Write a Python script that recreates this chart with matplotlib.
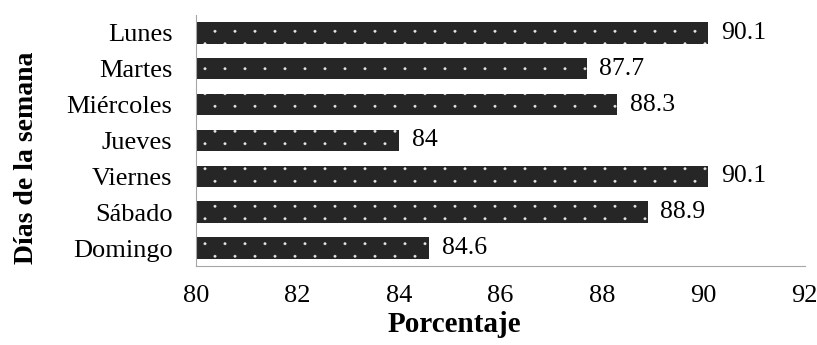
import warnings
import matplotlib.pyplot as plt
import matplotlib.hatch as mhatch
from matplotlib.path import Path
import numpy as np

warnings.filterwarnings('ignore')

dias = ["Lunes", "Martes", "Miércoles", "Jueves", "Viernes", "Sábado", "Domingo"]
porcentaje = [90.1, 87.7, 88.3, 84, 90.1, 88.9, 84.6]
etiquetas = ["90.1", "87.7", "88.3", "84", "90.1", "88.9", "84.6"]


# trama de puntos separados (tresbolillo), mas abierta que el '.' de matplotlib
class PuntosSeparados(mhatch.HatchPatternBase):
    filas = 8
    cols = 5
    radio = 0.012

    def __init__(self, hatch, density):
        circ = Path.unit_circle()
        self.forma = circ.vertices * self.radio
        self.codigos = circ.codes
        if hatch.count(':'):
            self.num_vertices = self.filas * self.cols * len(self.forma)
        else:
            self.num_vertices = 0

    def set_vertices_and_codes(self, vertices, codes):
        verts, cods = [], []
        for f in range(self.filas):
            yy = (f + 0.5) / self.filas
            for c in range(self.cols):
                xx = (c + 0.25 + 0.5 * (f % 2)) / self.cols
                verts.append(self.forma + [xx, yy])
                cods.append(self.codigos)
        np.concatenate(verts, out=vertices)
        np.concatenate(cods, out=codes)


mhatch._hatch_types.append(PuntosSeparados)

plt.rcParams['font.family'] = ['Liberation Serif', 'DejaVu Serif']
plt.rcParams['hatch.linewidth'] = 0.3

fig = plt.figure(figsize=(8.17, 3.45), dpi=100)
ax = fig.add_axes([0.24, 0.229, 0.745, 0.728])

y = np.arange(len(dias))
bars = ax.barh(y, porcentaje, 0.6, left=0, color='#262626', edgecolor='#e6e6e6',
               hatch=':', linewidth=0)

for b, txt in zip(bars, etiquetas):
    ax.text(b.get_width() + 0.25, b.get_y() + b.get_height() / 2, txt,
            va='center', ha='left', fontsize=18.5)

ax.set_xlim(80, 92)
ax.set_ylim(len(dias) - 0.5, -0.5)
ax.set_xticks(np.arange(80, 93, 2))
ax.set_yticks(y)
ax.set_yticklabels(dias)
ax.tick_params(axis='both', length=0, labelsize=19)
ax.tick_params(axis='x', pad=14)
ax.tick_params(axis='y', pad=17)
ax.spines['top'].set_visible(False)
ax.spines['right'].set_visible(False)
ax.spines['left'].set_color('#a6a6a6')
ax.spines['bottom'].set_color('#a6a6a6')

ax.set_xlabel("Porcentaje", fontsize=21, fontweight='bold')
ax.set_ylabel("Días de la semana", fontsize=20, fontweight='bold')
ax.xaxis.set_label_coords(0.425, -0.18)
ax.yaxis.set_label_coords(-0.258, 0.43)

plt.savefig("out.png", dpi=100)
